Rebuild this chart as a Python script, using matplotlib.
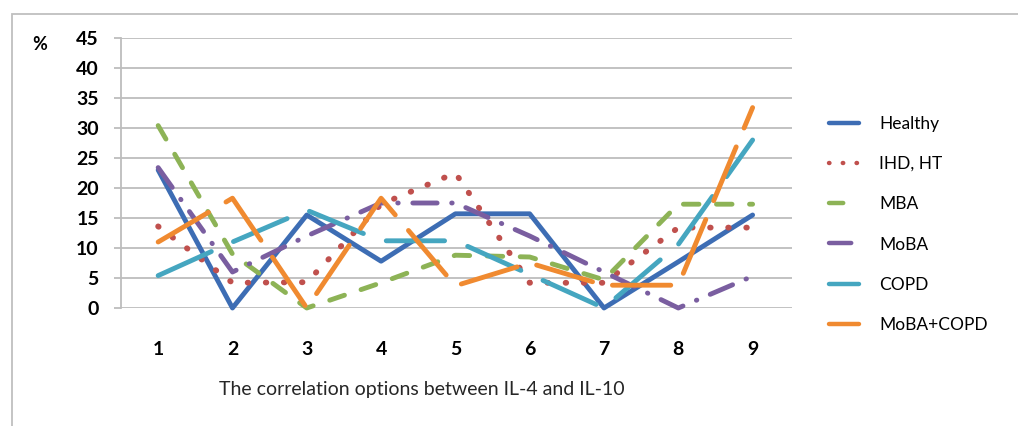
import matplotlib
matplotlib.use("Agg")
import matplotlib.pyplot as plt
from matplotlib.patches import Rectangle

plt.rcParams['font.family'] = ['Lato', 'DejaVu Sans']

# correlation options 1..9, percent of patients per group
options = [1, 2, 3, 4, 5, 6, 7, 8, 9]
healthy = [23.0, 0.0, 15.5, 7.8, 15.7, 15.7, 0.0, 7.7, 15.5]
ihd_ht = [13.6, 4.2, 4.3, 17.3, 22.5, 4.2, 4.2, 13.4, 13.4]
mba = [30.4, 9.0, 0.0, 4.2, 8.8, 8.5, 4.7, 17.3, 17.3]
moba = [23.4, 6.0, 12.0, 17.5, 17.5, 12.0, 6.0, 0.0, 5.3]
copd = [5.4, 11.0, 16.3, 11.2, 11.2, 5.6, 0.0, 10.6, 28.0]
moba_copd = [11.0, 18.3, 0.0, 18.3, 3.7, 7.5, 3.8, 3.8, 33.4]
y_ticks = [0, 5, 10, 15, 20, 25, 30, 35, 40, 45]

W, H = 1018, 426
fig = plt.figure(figsize=(W / 100, H / 100), dpi=100)
ax = fig.add_axes([121 / W, 118 / H, (792 - 121) / W, 270 / H])

lw = 3.5
series = [
    ("Healthy", healthy, "#3d6db4", "-", lw),
    ("IHD, HT", ihd_ht, "#c0504d", (0, (0.1, 3.0)), 4.2),
    ("MBA", mba, "#8db356", (0, (3.2, 3.6)), lw),
    ("MoBA", moba, "#7a5ea0", (0, (5.0, 3.0, 0.1, 3.0)), lw),
    ("COPD", copd, "#45a6c0", (0, (12, 5)), lw),
    ("MoBA+COPD", moba_copd, "#f08a30", (0, (12, 4.2)), lw),
]
for name, vals, col, ls, w in series:
    ax.plot(options, vals, color=col, lw=w, linestyle=ls, label=name,
            solid_capstyle='round', dash_capstyle='round', solid_joinstyle='round',
            clip_on=False)

ax.set_xlim(0.5, 9.53)
ax.set_ylim(0, 45)
ax.set_yticks(y_ticks)
ax.set_xticks(options)
ax.yaxis.grid(True, color="#bdbdbd", lw=1.3)
ax.set_axisbelow(True)
for s in ["top", "right", "bottom"]:
    ax.spines[s].set_visible(False)
ax.spines["left"].set_color("#bdbdbd")
ax.spines["left"].set_linewidth(1.3)
ax.tick_params(axis='y', length=5, width=1.3, color="#bdbdbd", pad=11,
               labelsize=14)
ax.tick_params(axis='x', length=0, pad=24, labelsize=14)
for lab in ax.get_xticklabels() + ax.get_yticklabels():
    lab.set_fontweight('bold')

fig.text(40 / W, 1 - 44 / H, "%", fontsize=13, fontweight='bold', ha='center', va='center')
fig.text(422 / W, 1 - 389 / H, "The correlation options between IL-4 and IL-10",
         fontsize=14, ha='center', va='center', color="#262626")

leg = fig.legend(loc='upper left', bbox_to_anchor=(813 / W, 1 - 100 / H),
                 frameon=False, fontsize=12.5, handlelength=1.75, handletextpad=1.15,
                 labelspacing=1.4)
for line in leg.get_lines():
    line.set_linewidth(3.2)

# light frame around the chart area
fig.add_artist(Rectangle((12 / W, -0.2), 1.2, (H - 14) / H + 0.2, transform=fig.transFigure,
                         fill=False, edgecolor="#bfbfbf", lw=1.3))

fig.savefig("out.png", dpi=100)
